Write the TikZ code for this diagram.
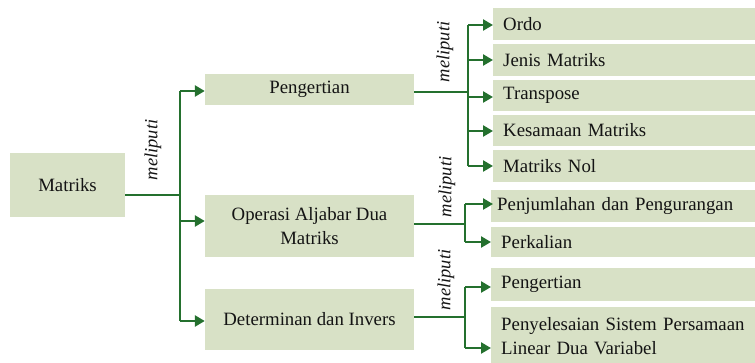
\documentclass[tikz,border=0pt]{standalone}
\usepackage{fontspec}
\setmainfont{Liberation Serif}
\usetikzlibrary{arrows.meta}
\definecolor{boxfill}{RGB}{216,225,198}
\definecolor{linkgreen}{RGB}{36,112,46}
\definecolor{ink}{RGB}{20,20,20}
\tikzset{
  box/.style={fill=boxfill, draw=none, inner ysep=0pt, text=ink,
    font=\fontsize{18.8}{24.5}\selectfont},
  midbox/.style={box, anchor=center, minimum width=209pt, align=center},
  leafbox/.style={box, anchor=west, inner xsep=10pt, text width=262pt, align=left},
  link/.style={draw=linkgreen, line width=2.8pt},
  arrowlink/.style={link, -{Triangle[length=10pt,width=11pt]}},
  tag/.style={rotate=90, text=ink, font=\fontsize{18.5}{22}\selectfont\itshape, inner sep=0pt}
}
\begin{document}
\begin{tikzpicture}[x=1pt, y=-1pt]
\useasboundingbox (0,0) rectangle (755,362);
\begin{scope}
\clip (0,0) rectangle (755,362);

% root
\node[box, minimum width=115pt, minimum height=64pt] (matriks) at (67.5,185) {Matriks};

% second level
\node[midbox, minimum height=31pt] (peng)  at (309.5,89.5) {Pengertian};
\node[midbox, minimum height=62pt] (oper)  at (309.5,226) {Operasi Aljabar Dua\\Matriks};
\node[midbox, minimum height=61pt] (det)   at (309.5,319.5) {Determinan dan Invers};

% leaves
\node[leafbox, minimum height=32pt] (ordo)   at (493,24)    {Ordo};
\node[leafbox, minimum height=32pt] (jenis)  at (493,60)    {Jenis Matriks};
\node[leafbox, minimum height=31pt] (trans)  at (493,95.5)  {Transpose};
\node[leafbox, minimum height=31pt] (sama)   at (493,130.5) {Kesamaan Matriks};
\node[leafbox, minimum height=32pt] (nol)    at (493,166)   {Matriks Nol};
\node[leafbox, minimum height=32pt, inner xsep=6pt] (jumlah) at (491,206) {Penjumlahan dan Pengurangan};
\node[leafbox, minimum height=30pt] (kali)   at (491,242)   {Perkalian};
\node[leafbox, minimum height=33pt] (peng2)  at (491,284.5) {Pengertian};
\node[leafbox, minimum height=58pt] (sel)    at (491,336)   {Penyelesaian Sistem Persamaan\\Linear Dua Variabel};

% junction points
\coordinate (j0) at (180,195);
\coordinate (j1) at (468,92);
\coordinate (j2) at (465,224);
\coordinate (j3) at (465,317);

% root to second level
\draw[link] (matriks.east |- j0) -- (j0);
\draw[link] (j0 |- 0,91) -- (j0 |- 0,321);
\draw[arrowlink] (j0 |- 0,91)  -- (peng.west |- 0,91);
\draw[arrowlink] (j0 |- 0,221) -- (oper.west |- 0,221);
\draw[arrowlink] (j0 |- 0,321) -- (det.west |- 0,321);

% Pengertian branch
\draw[link] (peng.east |- j1) -- (j1);
\draw[link] (j1 |- 0,25) -- (j1 |- 0,166);
\draw[arrowlink] (j1 |- 0,25)  -- (ordo.west |- 0,25);
\draw[arrowlink] (j1 |- 0,60)  -- (jenis.west |- 0,60);
\draw[arrowlink] (j1 |- 0,97)  -- (trans.west |- 0,97);
\draw[arrowlink] (j1 |- 0,131) -- (sama.west |- 0,131);
\draw[arrowlink] (j1 |- 0,166) -- (nol.west |- 0,166);

% Operasi branch
\draw[link] (oper.east |- j2) -- (j2);
\draw[link] (j2 |- 0,204) -- (j2 |- 0,242);
\draw[arrowlink] (j2 |- 0,204) -- ([xshift=2pt]jumlah.west |- 0,204);
\draw[arrowlink] (j2 |- 0,242) -- (kali.west |- 0,242);

% Determinan branch
\draw[link] (det.east |- j3) -- (j3);
\draw[link] (j3 |- 0,287) -- (j3 |- 0,348);
\draw[arrowlink] (j3 |- 0,287) -- (peng2.west |- 0,287);
\draw[arrowlink] (j3 |- 0,348) -- (sel.west |- 0,348);

% relation labels
\node[tag] (t0) at (153,150) {meliputi};
\node[tag] (t1) at (445,52)  {meliputi};
\node[tag] (t2) at (447,187) {meliputi};
\node[tag] (t3) at (446,280) {meliputi};
\end{scope}
\end{tikzpicture}
\end{document}
